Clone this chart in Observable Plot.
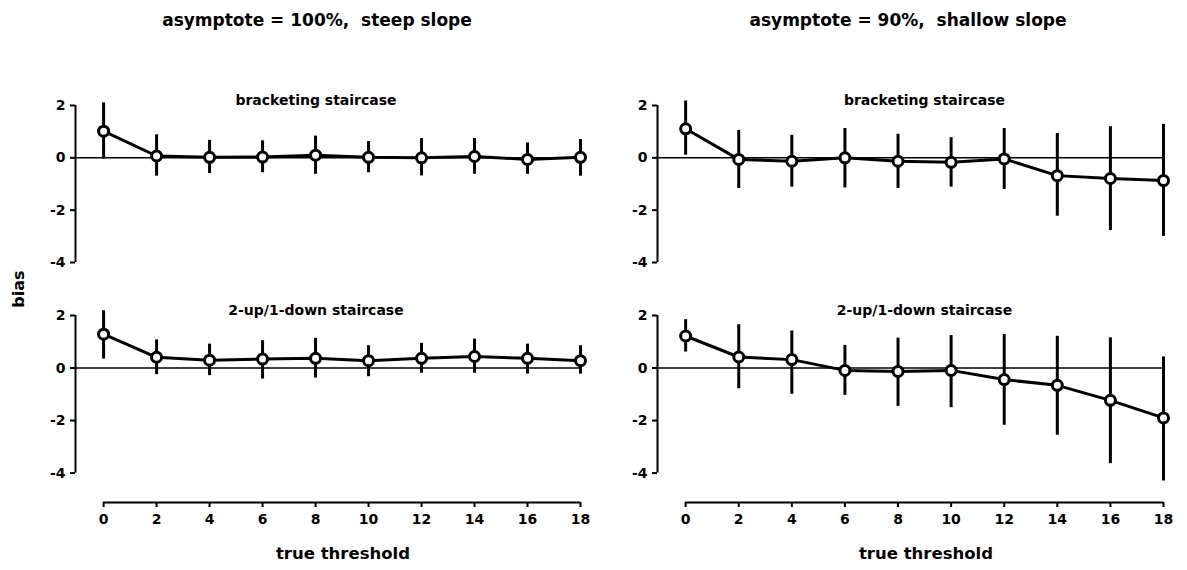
<!DOCTYPE html>
<html>
<head>
<meta charset="utf-8">
<script src="https://cdn.jsdelivr.net/npm/d3@7"></script>
<script src="https://cdn.jsdelivr.net/npm/@observablehq/plot@0.6"></script>
<style>
  html, body { margin: 0; padding: 0; background: #fff; }
  #fig { position: relative; width: 1187px; height: 570px; font-family: "DejaVu Sans", sans-serif; color: #000; }
  .panel { position: absolute; }
  .txt { position: absolute; font-weight: bold; white-space: pre; transform: translate(-50%, -50%); }
</style>
</head>
<body>
<div id="fig"></div>
<script>
// ---- data ----
const thresholds = [0, 2, 4, 6, 8, 10, 12, 14, 16, 18];
const yTicks = [2, 0, -2, -4];
const xTicks = [0, 2, 4, 6, 8, 10, 12, 14, 16, 18];

const columnTitles = ["asymptote = 100%,  steep slope", "asymptote = 90%,  shallow slope"];
const rowTitles = ["bracketing staircase", "2-up/1-down staircase"];
const xLabel = "true threshold";
const yLabel = "bias";

// asymptote 100%, bracketing
const steepBracketBias = [1.02, 0.07, 0.02, 0.03, 0.10, 0.02, 0.00, 0.05, -0.06, 0.02];
const steepBracketLo   = [-0.05, -0.70, -0.60, -0.57, -0.63, -0.57, -0.69, -0.63, -0.63, -0.70];
const steepBracketHi   = [2.10, 0.88, 0.67, 0.65, 0.83, 0.62, 0.74, 0.74, 0.57, 0.70];
// asymptote 90%, bracketing
const shallowBracketBias = [1.11, -0.06, -0.13, 0.00, -0.13, -0.17, -0.04, -0.68, -0.79, -0.87];
const shallowBracketLo   = [0.10, -1.17, -1.12, -1.15, -1.17, -1.12, -1.21, -2.23, -2.78, -3.00];
const shallowBracketHi   = [2.17, 1.05, 0.86, 1.12, 0.90, 0.77, 1.12, 0.93, 1.19, 1.28];
// asymptote 100%, 2-up/1-down
const steepUpDownBias = [1.29, 0.41, 0.30, 0.34, 0.37, 0.28, 0.37, 0.44, 0.37, 0.28];
const steepUpDownLo   = [0.34, -0.25, -0.29, -0.42, -0.38, -0.33, -0.20, -0.20, -0.23, -0.23];
const steepUpDownHi   = [2.18, 1.07, 0.91, 1.04, 1.13, 0.85, 0.94, 1.10, 0.91, 0.85];
// asymptote 90%, 2-up/1-down
const shallowUpDownBias = [1.22, 0.42, 0.32, -0.09, -0.13, -0.09, -0.44, -0.66, -1.23, -1.90];
const shallowUpDownLo   = [0.61, -0.79, -1.00, -1.04, -1.46, -1.51, -2.18, -2.56, -3.64, -4.30];
const shallowUpDownHi   = [1.84, 1.65, 1.41, 0.86, 1.14, 1.24, 1.28, 1.21, 1.15, 0.42];

function rows(bias, lo, hi) {
  return thresholds.map((t, i) => ({t, bias: bias[i], lo: lo[i], hi: hi[i]}));
}

const panels = [
  {col: 0, row: 0, data: rows(steepBracketBias, steepBracketLo, steepBracketHi)},
  {col: 1, row: 0, data: rows(shallowBracketBias, shallowBracketLo, shallowBracketHi)},
  {col: 0, row: 1, data: rows(steepUpDownBias, steepUpDownLo, steepUpDownHi)},
  {col: 1, row: 1, data: rows(shallowUpDownBias, shallowUpDownLo, shallowUpDownHi)}
];

// ---- layout ----
const xMin = -1.06;
const cols = [
  {left: 0, width: 600, marginLeft: 75, marginRight: 20, subDx: -12},
  {left: 600, width: 587, marginLeft: 57, marginRight: 24, subDx: 14}
];
const rowsLayout = [
  {top: 80, height: 200, marginTop: 25, marginBottom: 18, yMin: -4, xAxis: false},
  {top: 290, height: 260, marginTop: 25, marginBottom: 48, yMin: -5.12, xAxis: true}
];

const fig = document.getElementById("fig");
const font = "DejaVu Sans, sans-serif";

for (const p of panels) {
  const c = cols[p.col], r = rowsLayout[p.row];
  const marks = [
    Plot.ruleX([xMin], {y1: -4, y2: 2, strokeWidth: 2}),
    Plot.axisY({ticks: yTicks, tickSize: 5, tickPadding: 5, strokeWidth: 2,
      tickFormat: d => String(d), fontSize: 14, fontWeight: "bold", label: null}),
    Plot.ruleY([0], {x1: xMin, x2: 18, strokeWidth: 1.5}),
    Plot.ruleX(p.data, {x: "t", y1: "lo", y2: "hi", strokeWidth: 3}),
    Plot.line(p.data, {x: "t", y: "bias", strokeWidth: 3}),
    Plot.dot(p.data, {x: "t", y: "bias", r: 5, fill: "white", stroke: "black", strokeWidth: 3}),
    Plot.text([rowTitles[p.row]], {frameAnchor: "top", dy: -5, dx: c.subDx, lineAnchor: "middle",
      fontSize: 14, fontWeight: "bold"})
  ];
  if (r.xAxis) {
    marks.push(Plot.ruleY([r.yMin], {x1: 0, x2: 18, strokeWidth: 2}));
    marks.push(Plot.axisX({ticks: xTicks, tickSize: 5, tickPadding: 7, strokeWidth: 2,
      fontSize: 14, fontWeight: "bold", label: null, tickFormat: d => String(d)}));
  } else {
    marks.push(Plot.axisX({ticks: [], label: null}));
  }
  const svg = Plot.plot({
    width: c.width,
    height: r.height,
    marginLeft: c.marginLeft,
    marginRight: c.marginRight,
    marginTop: r.marginTop,
    marginBottom: r.marginBottom,
    x: {domain: [xMin, 18]},
    y: {domain: [r.yMin, 2]},
    style: {fontFamily: font, background: "white", overflow: "visible"},
    marks
  });
  svg.classList.add("panel");
  svg.style.left = c.left + "px";
  svg.style.top = r.top + "px";
  fig.appendChild(svg);
}

function addText(str, x, y, size, rotate) {
  const d = document.createElement("div");
  d.className = "txt";
  d.textContent = str;
  d.style.left = x + "px";
  d.style.top = y + "px";
  d.style.fontSize = size + "px";
  if (rotate) d.style.transform = "translate(-50%, -50%) rotate(-90deg)";
  fig.appendChild(d);
}

addText(columnTitles[0], 317, 20, 17);
addText(columnTitles[1], 908, 20, 17);
addText(xLabel, 343, 553, 16.5);
addText(xLabel, 926, 553, 16.5);
addText(yLabel, 18, 289, 16, true);
</script>
</body>
</html>
